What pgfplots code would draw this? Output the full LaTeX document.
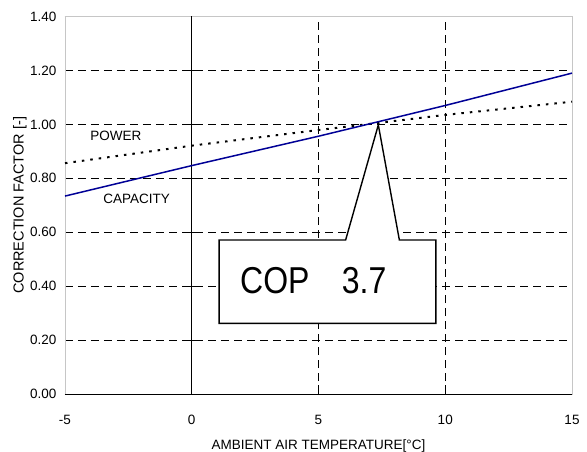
\documentclass[border=0pt]{standalone}
\usepackage{fontspec}
\setmainfont{Liberation Sans}
\usepackage{pgfplots}
\pgfplotsset{compat=1.18}
\definecolor{capblue}{RGB}{0,0,150}
\begin{document}
\begin{tikzpicture}
\begin{axis}[
  scale only axis,
  width=507bp, height=377.5bp,
  xmin=-5, xmax=15, ymin=0, ymax=1.4,
  xtick={-5,0,5,10,15},
  ytick={0,0.2,0.4,0.6,0.8,1.0,1.2,1.4},
  xtick pos=bottom,
  tick align=inside,
  major tick length=9bp,
  xtick style={black, line width=0.8bp},
  ytick style={draw=none},
  axis line style={gray!45, line width=0.8bp},
  grid=major,
  major grid style={black, line width=0.7bp, dash pattern=on 8bp off 5bp},
  /pgf/number format/assume math mode=true,
  yticklabel={\pgfmathprintnumber[fixed,fixed zerofill,precision=2]{\tick}},
  xticklabel={\pgfmathprintnumber[fixed,precision=0]{\tick}},
  ticklabel style={font=\fontsize{13.5bp}{15bp}\selectfont},
  yticklabel style={xshift=-5bp},
  xticklabel style={anchor=base, yshift=-30bp},
  xlabel={AMBIENT AIR TEMPERATURE[\textdegree C]},
  ylabel={CORRECTION FACTOR [-]},
  xlabel style={at={(axis description cs:0.5,-0.1465)}, anchor=base, font=\fontsize{13.5bp}{15bp}\selectfont},
  ylabel style={at={(axis description cs:-0.0888,0.5)}, anchor=center, font=\fontsize{14.5bp}{16bp}\selectfont},
  clip=false,
]
% solid x axis and y axis at x=0
\draw[black, line width=1bp] (axis cs:-5,0) -- (axis cs:15,0);
\draw[black, line width=1bp] (axis cs:0,0) -- (axis cs:0,1.4);
\addplot[only marks, mark=-, mark size=5bp, mark options={black, line width=0.8bp}] coordinates {
  (0,0.2) (0,0.4) (0,0.6) (0,0.8) (0,1.0) (0,1.2)
};
% POWER (dotted)
\addplot[black, line width=2bp, dash pattern=on 2.5bp off 6bp] coordinates {
  (-5,0.856) (0,0.921) (5,0.979) (10,1.035) (15,1.084)
};
% CAPACITY (solid blue)
\addplot[capblue, line width=1.5bp] coordinates {
  (-5,0.734) (0,0.847) (5,0.956) (10,1.070) (15,1.190)
};
% callout
\draw[black, line width=1.4bp, fill=white]
  (axis cs:1.08,0.571) -- (axis cs:6.07,0.571) -- (axis cs:7.36,0.998)
  -- (axis cs:8.19,0.571) -- (axis cs:9.63,0.571) -- (axis cs:9.63,0.262)
  -- (axis cs:1.08,0.262) -- cycle;
\node[anchor=base west, inner sep=0pt, yscale=1.17, font=\fontsize{32bp}{34bp}\selectfont] at (axis cs:1.905,0.371) {COP};
\node[anchor=base west, inner sep=0pt, yscale=1.17, font=\fontsize{32bp}{34bp}\selectfont] at (axis cs:5.917,0.371) {3.7};
\node[font=\fontsize{13.5bp}{15bp}\selectfont] at (axis cs:-2.99,0.958) {POWER};
\node[font=\fontsize{13.5bp}{15bp}\selectfont] at (axis cs:-2.17,0.723) {CAPACITY};
\end{axis}
\pgfresetboundingbox
\path (current axis.south west) ++(-65bp,-58bp) rectangle ++(587bp,452bp);
\end{tikzpicture}
\end{document}
